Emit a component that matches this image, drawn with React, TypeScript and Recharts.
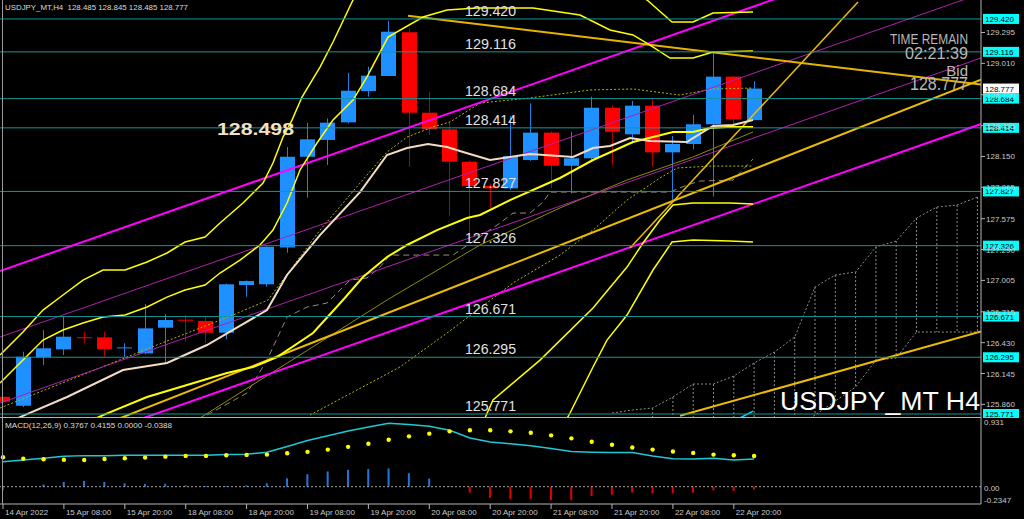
import React from 'react';
import { ComposedChart, Bar, Line, XAxis, YAxis, ReferenceLine, Cell } from 'recharts';

const W = 1024;
const AXIS_W = 43;
const MAIN_H = 418;
const SUB_H = 101;
const BODY_W = 15;
const FONT = '"Liberation Sans", Arial, sans-serif';

const X_DOMAIN: [number, number] = [-0.148, 48.177];
const PRICE_DOMAIN: [number, number] = [125.734, 129.595];
const MACD_DOMAIN: [number, number] = [-0.2347, 0.931];

// H4 candles, bar 0 = 14 Apr 20:00
const OPEN = [125.930, 125.847, 126.294, 126.368, 126.480, 126.479, 126.382, 126.331, 126.568, 126.642, 126.630, 126.522, 126.962, 126.969, 127.309, 128.147, 128.302, 128.465, 128.754, 128.893, 129.297, 128.554, 128.400, 128.101, 127.877, 127.855, 128.117, 128.370, 128.064, 128.133, 128.600, 128.354, 128.619, 128.188, 128.265, 128.447, 128.887, 128.485];
const HIGH = [125.950, 126.346, 126.546, 126.676, 126.531, 126.531, 126.424, 126.787, 126.692, 126.685, 126.664, 126.975, 127.003, 127.320, 128.237, 128.462, 128.502, 128.923, 128.979, 129.404, 129.333, 128.748, 128.462, 128.110, 127.900, 128.523, 128.641, 128.380, 128.378, 128.702, 128.620, 128.662, 128.687, 128.339, 128.533, 129.117, 128.890, 128.845];
const LOW = [125.860, 125.835, 126.223, 126.316, 126.424, 126.300, 126.300, 126.322, 126.239, 126.438, 126.424, 126.461, 126.854, 126.947, 127.260, 127.769, 128.071, 128.456, 128.702, 128.893, 128.055, 128.348, 127.604, 127.378, 127.673, 127.840, 128.110, 127.855, 127.810, 128.101, 128.071, 128.271, 128.055, 127.747, 128.216, 127.780, 128.431, 128.485];
const CLOSE = [125.884, 126.300, 126.378, 126.485, 126.474, 126.371, 126.386, 126.562, 126.639, 126.637, 126.522, 126.969, 126.999, 127.316, 128.147, 128.308, 128.462, 128.757, 128.896, 129.302, 128.554, 128.400, 128.101, 127.877, 127.855, 128.154, 128.370, 128.064, 128.133, 128.600, 128.378, 128.619, 128.188, 128.265, 128.447, 128.887, 128.493, 128.777];

const LEVELS = [129.420, 129.116, 128.684, 128.414, 127.827, 127.326, 126.671, 126.295, 125.771];
const PRICE_TICKS = [129.295, 129.010, 128.720, 128.435, 128.150, 127.865, 127.575, 127.290, 127.005, 126.715, 126.430, 126.145, 125.860];
const BID = 128.777;

// trend lines [bar, price]
const MAGENTA_UP = [[-0.148, 127.092], [48.177, 130.272]];
const MAGENTA_DN = [[-0.148, 125.268], [48.177, 128.449]];
const PURPLE_UP = [[-0.148, 126.482], [48.177, 129.654]];
const PURPLE_DN = [[-0.148, 125.872], [48.177, 129.059]];
const GOLD_FALL = [[19.951, 129.450], [48.177, 128.814]];
const GOLD_RISE = [[5.764, 125.732], [48.177, 128.858]];
const GOLD_LOW = [[33.350, 125.754], [48.177, 126.533]];
const GOLD_STEEP = [[30.887, 127.304], [42.118, 129.577]];
const CYAN_TAIL = [[36.305, 125.734], [36.946, 125.798]];

// bollinger bands
const BB_UP3 = [[-0.148, 126.316], [0.985, 126.528], [1.970, 126.731], [2.956, 126.870], [3.941, 127.008], [4.926, 127.101], [6.010, 127.101], [7.094, 127.175], [8.079, 127.258], [8.966, 127.359], [9.951, 127.406], [10.690, 127.535], [11.823, 127.720], [12.808, 127.904], [13.300, 128.089], [13.793, 128.329], [14.236, 128.486], [14.729, 128.699], [15.616, 128.976], [16.256, 129.207], [17.241, 129.595], [18.227, 129.965], [20.0, 130.149], [24.483, 130.149], [29.409, 129.872], [31.724, 129.595], [32.956, 129.392], [33.990, 129.392], [34.975, 129.475], [36.946, 129.484]];
const BB_UP2 = [[-0.148, 126.057], [0.837, 126.242], [1.970, 126.454], [2.956, 126.547], [3.941, 126.611], [4.926, 126.667], [6.010, 126.685], [7.094, 126.759], [8.079, 126.851], [8.966, 126.916], [9.951, 126.962], [10.690, 127.073], [11.675, 127.193], [12.660, 127.332], [13.300, 127.470], [13.990, 127.720], [14.631, 128.025], [15.468, 128.274], [16.256, 128.486], [17.241, 128.671], [17.931, 128.884], [18.966, 129.253], [20.690, 129.438], [21.872, 129.503], [23.350, 129.521], [26.108, 129.521], [28.424, 129.456], [29.901, 129.318], [31.034, 129.272], [31.872, 129.179], [32.857, 129.059], [33.990, 129.059], [34.975, 129.115], [36.946, 129.124]];
const BB_MID = [[2.808, 125.577], [4.926, 125.761], [7.094, 125.928], [9.064, 126.039], [11.034, 126.149], [12.315, 126.205], [13.498, 126.297], [15.271, 126.519], [16.749, 126.824], [17.734, 127.036], [18.916, 127.221], [19.901, 127.332], [21.379, 127.470], [22.857, 127.581], [23.498, 127.609], [24.975, 127.747], [27.438, 127.951], [29.064, 128.117], [31.034, 128.283], [33.005, 128.376], [33.990, 128.376], [34.828, 128.413], [35.665, 128.422], [36.946, 128.422]];
const BB_DN2 = [[23.005, 125.530], [23.744, 125.734], [24.138, 125.900], [26.453, 126.269], [29.064, 126.750], [30.739, 127.128], [31.527, 127.350], [32.365, 127.563], [33.005, 127.701], [33.990, 127.720], [35.813, 127.720], [36.946, 127.711]];
const BB_DN3 = [[27.192, 125.530], [27.931, 125.780], [29.064, 126.205], [29.754, 126.454], [30.739, 126.685], [32.020, 127.101], [32.956, 127.359], [33.990, 127.378], [35.813, 127.369], [36.946, 127.359]];

// moving averages / ichimoku
const MA_FAST = [[-0.148, 125.641], [0.837, 125.743], [3.153, 125.928], [5.911, 126.177], [8.079, 126.242], [10.049, 126.408], [11.330, 126.547], [13.005, 126.731], [13.990, 127.055], [15.616, 127.424], [17.586, 127.821], [18.916, 128.163], [19.901, 128.228], [20.936, 128.265], [21.872, 128.237], [22.660, 128.191], [23.990, 128.117], [25.961, 128.172], [28.079, 128.145], [29.064, 128.228], [29.901, 128.246], [30.887, 128.320], [31.872, 128.292], [33.695, 128.283], [33.990, 128.320], [34.975, 128.431], [35.961, 128.440], [36.946, 128.486]];
const DOT_A = [[-0.148, 125.826], [3.153, 126.075], [8.079, 126.445], [11.330, 126.685], [13.054, 126.824], [15.616, 127.470], [17.586, 127.904], [18.916, 128.191], [19.901, 128.329], [21.182, 128.422], [22.020, 128.468], [23.498, 128.643], [25.961, 128.690], [28.916, 128.764], [31.034, 128.773], [33.350, 128.717], [34.975, 128.773], [36.946, 128.782]];
const DOT_B = [[15.123, 125.761], [19.557, 126.205], [21.872, 126.519], [25.123, 126.981], [27.438, 127.239], [29.064, 127.470], [30.739, 127.747], [32.365, 127.951], [33.202, 128.043], [34.828, 128.061], [36.946, 128.061]];
const OLIVE = [[9.704, 125.734], [14.631, 126.316], [18.916, 126.824], [23.498, 127.332], [27.438, 127.674], [30.739, 127.932], [33.990, 128.145], [36.946, 128.376]];
const LAG = [[10.049, 125.761], [12.020, 125.965], [13.005, 126.269], [13.990, 126.667], [14.975, 126.759], [15.961, 126.796], [17.094, 127.008], [17.931, 127.027], [18.571, 127.128], [19.064, 127.239], [22.167, 127.239], [24.483, 127.535], [25.123, 127.627], [25.961, 127.627], [26.601, 127.729], [26.946, 127.821], [32.857, 127.821], [33.695, 127.886], [34.335, 127.923], [35.961, 127.932], [36.946, 128.126]];
const SENKOU_A = [[30, 125.780], [31, 125.808], [32, 125.826], [33, 125.928], [34, 126.048], [35, 126.048], [36, 126.122], [37, 126.242], [38, 126.343], [39, 126.482], [40, 126.944], [41, 127.055], [42, 127.082], [43, 127.313], [44, 127.369], [45, 127.581], [46, 127.683], [47, 127.701], [48, 127.775]];
const SENKOU_B = [[36, 125.253], [37, 125.392], [38, 125.530], [39, 125.641], [40, 125.761], [41, 125.891], [42, 126.020], [43, 126.269], [44, 126.288], [45, 126.528], [46, 126.528], [47, 126.528], [48, 126.528]];

// MACD(12,26,9) per bar
const MACD_MAIN = [0.339, 0.362, 0.385, 0.413, 0.421, 0.421, 0.426, 0.426, 0.426, 0.426, 0.426, 0.435, 0.44, 0.467, 0.545, 0.627, 0.691, 0.756, 0.81, 0.86, 0.842, 0.819, 0.764, 0.66, 0.605, 0.582, 0.554, 0.517, 0.476, 0.467, 0.463, 0.463, 0.417, 0.38, 0.376, 0.385, 0.362, 0.3767];
const MACD_SIGNAL = [0.399, 0.38, 0.371, 0.366, 0.362, 0.376, 0.385, 0.394, 0.407, 0.417, 0.417, 0.426, 0.431, 0.435, 0.454, 0.472, 0.503, 0.54, 0.582, 0.636, 0.682, 0.719, 0.75, 0.764, 0.764, 0.75, 0.732, 0.696, 0.655, 0.609, 0.568, 0.531, 0.503, 0.476, 0.458, 0.435, 0.426, 0.4155];
const MACD_HIST = [-0.05, -0.01, 0.03, 0.064, 0.078, 0.064, 0.046, 0.037, 0.04, 0.018, 0.009, 0.009, 0.018, 0.046, 0.114, 0.169, 0.206, 0.229, 0.238, 0.247, 0.183, 0.11, 0.01, -0.082, -0.151, -0.17, -0.165, -0.183, -0.183, -0.128, -0.11, -0.078, -0.091, -0.091, -0.082, -0.05, -0.059, -0.0388];
const MACD_TICKS = [0.931, 0, -0.2347];
const MACD_TICK_LABELS = ['0.931', '0.00', '-0.2347'];

const TIME_TICKS = [0, 3, 6, 9, 12, 15, 18, 21, 24, 27, 30, 33, 36];
const TIME_LABELS = ['14 Apr 2022', '15 Apr 08:00', '15 Apr 20:00', '18 Apr 08:00', '18 Apr 20:00', '19 Apr 08:00', '19 Apr 20:00', '20 Apr 08:00', '20 Apr 20:00', '21 Apr 08:00', '21 Apr 20:00', '22 Apr 08:00', '22 Apr 20:00'];

const BULL = '#1e90ff';
const BEAR = '#ff0000';

const pts = (arr: number[][]) => arr.map(([x, y]) => ({ x, y }));

const SERIES = [
  { id: 'senA', data: SENKOU_A, color: '#8c8c8c', w: 1, dash: '2 2' },
  { id: 'senB', data: SENKOU_B, color: '#8c8c8c', w: 1, dash: '2 2' },
  { id: 'lag', data: LAG, color: '#948a7c', w: 1, dash: '6 4' },
  { id: 'olive', data: OLIVE, color: '#8c8c00', w: 1 },
  { id: 'dotA', data: DOT_A, color: '#b4b400', w: 1, dash: '2 2' },
  { id: 'dotB', data: DOT_B, color: '#b4b400', w: 1, dash: '2 2' },
  { id: 'purUp', data: PURPLE_UP, color: '#b020b0', w: 1 },
  { id: 'purDn', data: PURPLE_DN, color: '#b020b0', w: 1 },
  { id: 'magUp', data: MAGENTA_UP, color: '#ff00ff', w: 2 },
  { id: 'magDn', data: MAGENTA_DN, color: '#ff00ff', w: 2 },
  { id: 'gFall', data: GOLD_FALL, color: '#e6b400', w: 2 },
  { id: 'gRise', data: GOLD_RISE, color: '#ecbc00', w: 2 },
  { id: 'gLow', data: GOLD_LOW, color: '#ecbc00', w: 2 },
  { id: 'gSteep', data: GOLD_STEEP, color: '#ecbc00', w: 1.5 },
  { id: 'bbU3', data: BB_UP3, color: '#ffff00', w: 1.5 },
  { id: 'bbU2', data: BB_UP2, color: '#ffff00', w: 1.5 },
  { id: 'bbM', data: BB_MID, color: '#ffff00', w: 2 },
  { id: 'bbD2', data: BB_DN2, color: '#ffff00', w: 1.5 },
  { id: 'bbD3', data: BB_DN3, color: '#ffff00', w: 1.5 },
  { id: 'ma', data: MA_FAST, color: '#f2dcc4', w: 2 },
  { id: 'tail', data: CYAN_TAIL, color: '#00e0ff', w: 1.5 },
];

const candles = OPEN.map((o, i) => ({ x: i, o, h: HIGH[i], l: LOW[i], c: CLOSE[i], range: [LOW[i], HIGH[i]] }));
const macdData = MACD_MAIN.map((m, i) => ({ x: i, main: m, signal: MACD_SIGNAL[i], hist: MACD_HIST[i] }));

const senkouAt = (arr: number[][], bar: number) => {
  const hit = arr.find(p => p[0] === bar);
  return hit ? hit[1] : null;
};
const HATCH = SENKOU_A.filter(p => p[0] >= 32).map(([bar, top]) => {
  const low = senkouAt(SENKOU_B, bar);
  return { bar, top, bottom: Math.max(low == null ? PRICE_DOMAIN[0] : low, PRICE_DOMAIN[0]) };
});

function Candle(props: any) {
  const { x, y, width, height, payload } = props;
  if (!payload || x == null || y == null) return null;
  const { o, h, l, c } = payload;
  const top = Math.min(y, y + height);
  const span = Math.abs(height);
  const k = h > l ? span / (h - l) : 0;
  const bTop = top + (h - Math.max(o, c)) * k;
  const bBot = top + (h - Math.min(o, c)) * k;
  const mid = Math.floor(x + (width || 0) / 2) + 0.5;
  const up = c >= o;
  return (
    <g>
      <line x1={mid} x2={mid} y1={top} y2={top + span} stroke={up ? '#1c80e0' : '#b40000'} strokeWidth={1} />
      <rect x={mid - BODY_W / 2} y={bTop} width={BODY_W} height={Math.max(1, bBot - bTop)} fill={up ? BULL : BEAR} />
    </g>
  );
}

function PriceTick(props: any) {
  const { x, y, payload } = props;
  return (
    <text x={x - 1} y={y + 3} fontSize={8} fill="#c8c8c8" fontFamily={FONT}>
      {payload.value.toFixed(3)}
    </text>
  );
}

function MacdTick(props: any) {
  const { x, y, payload } = props;
  const i = MACD_TICKS.indexOf(payload.value);
  const dy = [7, 4, -1][i] ?? 3;
  return (
    <text x={x + 1} y={y + dy} fontSize={8} fill="#c8c8c8" fontFamily={FONT}>
      {MACD_TICK_LABELS[i]}
    </text>
  );
}

function TimeTick(props: any) {
  const { x, y, payload } = props;
  const i = TIME_TICKS.indexOf(payload.value);
  return (
    <text x={x + 2} y={y + 4} fontSize={8} fill="#c8c8c8" fontFamily={FONT}>
      {TIME_LABELS[i]}
    </text>
  );
}

const levelLabel = (v: number) => (p: any) => {
  const vb = p.viewBox || {};
  const txt = v.toFixed(3);
  const right = vb.x + vb.width;
  return (
    <g>
      <text x={vb.x + 465} y={vb.y - 3} fontSize={15} fill="#e2e2e2" fontFamily={FONT} textLength={51} lengthAdjust="spacingAndGlyphs">
        {txt}
      </text>
      <rect x={right + 2} y={vb.y - 5} width={36} height={10} fill="#00ffff" />
      <text x={right + 4} y={vb.y + 3} fontSize={8} fill="#000" fontFamily={FONT}>{txt}</text>
    </g>
  );
};

const bidLabel = (p: any) => {
  const vb = p.viewBox || {};
  const right = vb.x + vb.width;
  return (
    <g>
      <rect x={right + 2} y={vb.y - 5} width={36} height={10} fill="#ffffff" />
      <text x={right + 4} y={vb.y + 3} fontSize={8} fill="#000" fontFamily={FONT}>{BID.toFixed(3)}</text>
    </g>
  );
};

export default function App() {
  return (
    <div style={{ position: 'fixed', left: 0, top: 0, width: W, height: 519, background: '#000', overflow: 'hidden' }}>
      <div style={{ position: 'absolute', left: 0, top: 0 }}>
        <ComposedChart width={W} height={MAIN_H} data={candles} margin={{ top: 0, right: 0, bottom: 0, left: 0 }}>
          <XAxis type="number" dataKey="x" domain={X_DOMAIN} allowDataOverflow hide />
          <YAxis
            orientation="right"
            width={AXIS_W}
            type="number"
            domain={PRICE_DOMAIN}
            allowDataOverflow
            ticks={PRICE_TICKS}
            interval={0}
            tick={<PriceTick />}
            tickSize={4}
            tickMargin={2}
            axisLine={{ stroke: '#b4b4b4' }}
            tickLine={{ stroke: '#b4b4b4' }}
          />
          <Bar dataKey="range" barSize={15} shape={<Candle />} isAnimationActive={false} />
          {HATCH.map(hc => (
            <ReferenceLine
              key={'h' + hc.bar}
              segment={[{ x: hc.bar, y: hc.top }, { x: hc.bar, y: hc.bottom }]}
              stroke="#8c8c8c"
              strokeDasharray="2 2"
              ifOverflow="hidden"
            />
          ))}
          {SERIES.map(s => (
            <Line
              key={s.id}
              data={pts(s.data)}
              dataKey="y"
              type="linear"
              stroke={s.color}
              strokeWidth={s.w}
              strokeDasharray={s.dash}
              dot={false}
              activeDot={false}
              isAnimationActive={false}
            />
          ))}
          {LEVELS.map(v => (
            <ReferenceLine key={'l' + v} y={v} stroke="#149696" strokeWidth={1} label={levelLabel(v)} />
          ))}
          <ReferenceLine y={BID} stroke="none" label={bidLabel} />
        </ComposedChart>
      </div>
      <div style={{ position: 'absolute', left: 0, top: 418 }}>
        <ComposedChart width={W} height={SUB_H} data={macdData} margin={{ top: 0, right: 0, bottom: 0, left: 0 }}>
          <XAxis
            type="number"
            dataKey="x"
            domain={X_DOMAIN}
            allowDataOverflow
            ticks={TIME_TICKS}
            interval={0}
            tick={<TimeTick />}
            tickSize={5}
            tickMargin={2}
            height={15}
            axisLine={{ stroke: '#b4b4b4' }}
            tickLine={{ stroke: '#b4b4b4' }}
          />
          <YAxis
            orientation="right"
            width={AXIS_W}
            type="number"
            domain={MACD_DOMAIN}
            allowDataOverflow
            ticks={MACD_TICKS}
            interval={0}
            tick={<MacdTick />}
            tickSize={0}
            tickMargin={2}
            axisLine={{ stroke: '#b4b4b4' }}
          />
          <ReferenceLine y={0} stroke="#a0a0a0" strokeDasharray="2 2" />
          <Bar dataKey="hist" barSize={2} isAnimationActive={false}>
            {macdData.map(d => (
              <Cell key={d.x} fill={d.hist >= 0 ? '#1e78e0' : '#e00000'} />
            ))}
          </Bar>
          <Line dataKey="main" type="linear" stroke="#1ec8d4" strokeWidth={1.5} dot={false} activeDot={false} isAnimationActive={false} />
          <Line dataKey="signal" type="linear" stroke="none" dot={{ r: 2.2, fill: '#ffff00', stroke: 'none' }} activeDot={false} isAnimationActive={false} />
        </ComposedChart>
      </div>
      <svg width={W} height={519} style={{ position: 'absolute', left: 0, top: 0, pointerEvents: 'none' }}>
        <line x1={2.5} x2={2.5} y1={0} y2={504} stroke="#9a9a9a" />
        <line x1={0} x2={981} y1={417.5} y2={417.5} stroke="#b4b4b4" />
        <text x={5} y={10} fontSize={8} fill="#dcdcdc" fontFamily={FONT} textLength={183} lengthAdjust="spacingAndGlyphs" style={{ whiteSpace: 'pre' }}>
          USDJPY_MT,H4  128.485 128.845 128.485 128.777
        </text>
        <text x={217} y={135} fontSize={17} fontWeight="bold" fill="#f3e3c6" fontFamily={FONT} textLength={77} lengthAdjust="spacingAndGlyphs">
          128.498
        </text>
        <text x={968} y={44} textAnchor="end" fontSize={15} fill="#b8b8b8" fontFamily={FONT} textLength={78} lengthAdjust="spacingAndGlyphs">
          TIME REMAIN
        </text>
        <text x={968} y={59} textAnchor="end" fontSize={17} fill="#b8b8b8" fontFamily={FONT} textLength={63} lengthAdjust="spacingAndGlyphs">
          02:21:39
        </text>
        <text x={968} y={76} textAnchor="end" fontSize={15} fill="#b8b8b8" fontFamily={FONT}>
          Bid
        </text>
        <text x={968} y={90} textAnchor="end" fontSize={18} fill="#b8b8b8" fontFamily={FONT} textLength={58} lengthAdjust="spacingAndGlyphs">
          128.777
        </text>
        <text x={780} y={410} fontSize={25} fill="#ffffff" fontFamily={FONT} textLength={200} lengthAdjust="spacingAndGlyphs">
          USDJPY_MT H4
        </text>
        <text x={5} y={428} fontSize={8} fill="#dcdcdc" fontFamily={FONT} textLength={167} lengthAdjust="spacingAndGlyphs">
          MACD(12,26,9) 0.3767 0.4155 0.0000 -0.0388
        </text>
      </svg>
    </div>
  );
}
